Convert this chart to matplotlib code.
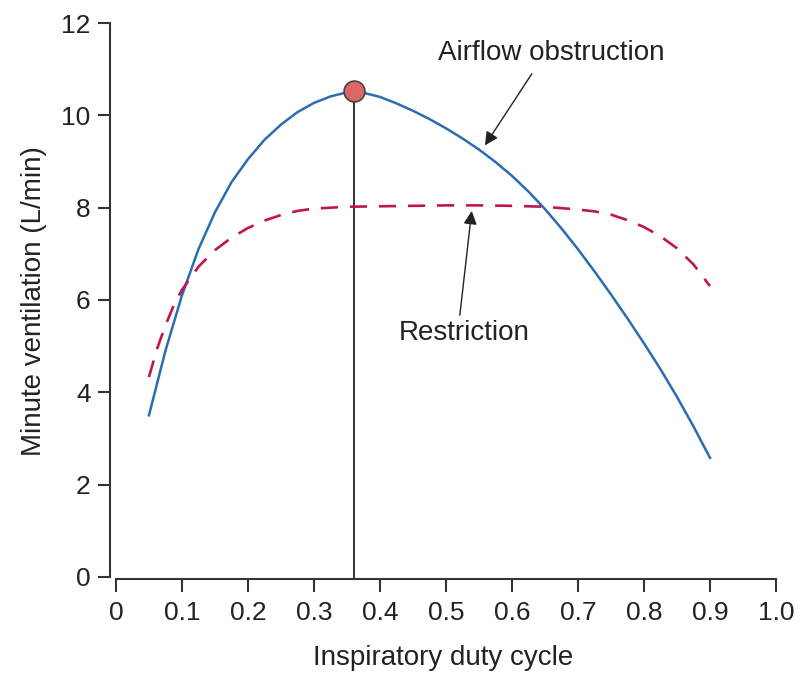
import matplotlib

matplotlib.use("Agg")
import matplotlib.pyplot as plt  # noqa: E402

plt.rcParams["font.family"] = ["Liberation Sans", "DejaVu Sans"]

# Minute ventilation vs inspiratory duty cycle
obstruction_x = [0.05, 0.075, 0.10, 0.125, 0.15, 0.175, 0.20, 0.225, 0.25, 0.275,
                 0.30, 0.325, 0.35, 0.36, 0.375, 0.40, 0.425, 0.45, 0.475, 0.50,
                 0.525, 0.55, 0.575, 0.60, 0.625, 0.65, 0.675, 0.70, 0.725, 0.75,
                 0.775, 0.80, 0.825, 0.85, 0.875, 0.90]
obstruction_y = [3.5, 4.9, 6.1, 7.1, 7.9, 8.55, 9.05, 9.47, 9.8, 10.07,
                 10.27, 10.41, 10.5, 10.52, 10.49, 10.4, 10.26, 10.1, 9.92, 9.72,
                 9.5, 9.26, 8.99, 8.69, 8.35, 7.97, 7.55, 7.1, 6.62, 6.12,
                 5.6, 5.06, 4.5, 3.9, 3.26, 2.58]

restriction_x = [0.05, 0.0625, 0.075, 0.0875, 0.10, 0.125, 0.15, 0.175, 0.20, 0.225,
                 0.25, 0.275, 0.30, 0.35, 0.40, 0.45, 0.50, 0.55, 0.60, 0.65,
                 0.70, 0.725, 0.75, 0.775, 0.80, 0.825, 0.85, 0.875, 0.90]
restriction_y = [4.33, 4.95, 5.45, 5.88, 6.22, 6.72, 7.08, 7.35, 7.56, 7.72,
                 7.84, 7.93, 7.98, 8.02, 8.03, 8.04, 8.05, 8.05, 8.04, 8.02,
                 7.96, 7.92, 7.85, 7.73, 7.58, 7.38, 7.12, 6.77, 6.3]

peak_x = 0.36
peak_y = 10.52

x_ticks = [0, 0.1, 0.2, 0.3, 0.4, 0.5, 0.6, 0.7, 0.8, 0.9, 1.0]
x_tick_labels = ["0", "0.1", "0.2", "0.3", "0.4", "0.5", "0.6", "0.7", "0.8", "0.9", "1.0"]
y_ticks = [0, 2, 4, 6, 8, 10, 12]

fig = plt.figure(figsize=(8, 6.79), dpi=100)
ax = fig.add_axes([0.1375, 0.147, 0.8325, 0.819])

ax.plot(obstruction_x, obstruction_y, color="#2a6db0", lw=1.8, zorder=3)
ax.plot(restriction_x, restriction_y, color="#c0174a", lw=1.9,
        dashes=(6.5, 4.5), zorder=3)
ax.plot([peak_x, peak_x], [0, peak_y], color="#333333", lw=1.4, zorder=2)
ax.plot([peak_x], [peak_y], "o", ms=15, mfc="#dd6666", mec="#444444",
        mew=1.2, zorder=4)

# Labels with arrows pointing at each curve
arrow = dict(arrowstyle="-|>", color="#222222", lw=1.0,
             mutation_scale=20, shrinkA=0, shrinkB=0)
ax.annotate("", xy=(0.559, 9.35), xytext=(0.63, 10.9), arrowprops=arrow)
ax.text(0.659, 11.36, "Airflow obstruction", fontsize=20, color="#222222",
        ha="center", va="center")
ax.annotate("", xy=(0.539, 7.93), xytext=(0.521, 5.67), arrowprops=arrow)
ax.text(0.527, 5.28, "Restriction", fontsize=20, color="#222222",
        ha="center", va="center")

ax.set_xlim(-0.009, 1.0)
ax.set_ylim(-0.05, 12)
ax.set_xticks(x_ticks)
ax.set_xticklabels(x_tick_labels)
ax.set_yticks(y_ticks)

for side in ("top", "right"):
    ax.spines[side].set_visible(False)
for side in ("left", "bottom"):
    ax.spines[side].set_color("#333333")
    ax.spines[side].set_linewidth(1.5)
ax.spines["left"].set_bounds(0, 12)
ax.spines["bottom"].set_bounds(0, 1.0)
ax.tick_params(length=9, width=1.5, color="#333333", labelsize=19,
               labelcolor="#222222")
ax.tick_params(axis="x", pad=7)
ax.tick_params(axis="y", pad=5)

ax.set_xlabel("Inspiratory duty cycle", fontsize=20, color="#222222", labelpad=14)
ax.set_ylabel("Minute ventilation (L/min)", fontsize=20, color="#222222", labelpad=10)

fig.savefig("out.png", dpi=100)
